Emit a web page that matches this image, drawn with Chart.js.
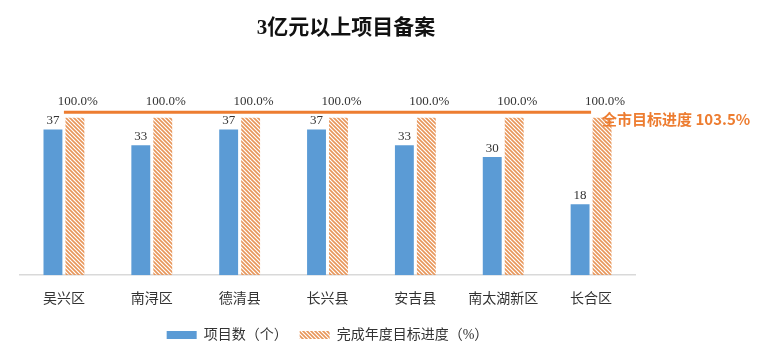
<!DOCTYPE html>
<html>
<head>
<meta charset="utf-8">
<script src="https://cdn.jsdelivr.net/npm/chart.js@4"></script>
<style>
  html, body { margin:0; padding:0; background:#fff; }
  #wrap { position:relative; width:768px; height:360px; }
  #title { position:absolute; left:0; top:10px; width:692px; text-align:center;
    font:bold 21px "Liberation Serif","Noto Sans CJK SC",serif; color:#111; }
</style>
</head>
<body>
<div id="wrap">
  <div id="title">3亿元以上项目备案</div>
  <canvas id="myChart" width="768" height="360"></canvas>
</div>
<script>
// 데이터
const categories = ['吴兴区', '南浔区', '德清县', '长兴县', '安吉县', '南太湖新区', '长合区'];
const projectCounts = [37, 33, 37, 37, 33, 30, 18];
const progressRates = [100, 100, 100, 100, 100, 100, 100];
const cityTarget = [103.5, 103.5, 103.5, 103.5, 103.5, 103.5, 103.5];
const cityTargetLabel = '全市目标进度 103.5%';

const serif = '"Liberation Serif", "Noto Sans CJK SC", serif';

/* 빗금 패턴 */
const pc = document.createElement('canvas');
pc.width = 4; pc.height = 4;
const pctx = pc.getContext('2d');
pctx.strokeStyle = '#E8965A';
pctx.lineWidth = 1.6;
pctx.beginPath();
pctx.moveTo(-1, -1); pctx.lineTo(5, 5);
pctx.moveTo(-1, 3); pctx.lineTo(1, 5);
pctx.moveTo(3, -1); pctx.lineTo(5, 1);
pctx.stroke();
const chartArea = document.getElementById('myChart').getContext('2d');
const hatch = chartArea.createPattern(pc, 'repeat');

// 값 라벨 + 목표선 텍스트
const labelPlugin = {
    id: 'labelPlugin',
    afterDatasetsDraw(chart) {
        const ctx = chart.ctx;
        ctx.save();
        ctx.font = '13px ' + serif;
        ctx.fillStyle = '#333';
        ctx.textAlign = 'center';
        ctx.textBaseline = 'bottom';
        chart.getDatasetMeta(0).data.forEach((bar, i) => {
            ctx.fillText(projectCounts[i], bar.x, bar.y - 2);
        });
        chart.getDatasetMeta(1).data.forEach((bar, i) => {
            ctx.fillText(progressRates[i].toFixed(1) + '%', bar.x + 3, bar.y - 10);
        });
        const x = chart.scales.x.getPixelForValue(categories.length - 1) + 11;
        const y = chart.scales.y1.getPixelForValue(cityTarget[0]) + 7;
        ctx.font = 'bold 15px "Noto Sans CJK SC", sans-serif';
        ctx.fillStyle = '#ED7D31';
        ctx.textAlign = 'left';
        ctx.textBaseline = 'middle';
        ctx.fillText(cityTargetLabel, x, y);
        ctx.restore();
    }
};

new Chart(chartArea, {
    data: {
        labels: categories,
        datasets: [{
            type: 'bar',
            label: '项目数（个）',
            data: projectCounts,
            backgroundColor: '#5B9BD5',
            yAxisID: 'y',
            categoryPercentage: 0.5,
            barPercentage: 0.86,
            order: 2
        }, {
            type: 'bar',
            label: '完成年度目标进度（%）',
            data: progressRates,
            backgroundColor: hatch,
            yAxisID: 'y1',
            categoryPercentage: 0.5,
            barPercentage: 0.86,
            order: 2
        }, {
            type: 'line',
            label: 'target',
            data: cityTarget,
            borderColor: '#ED7D31',
            borderWidth: 3,
            pointRadius: 0,
            yAxisID: 'y1',
            order: 1
        }]
    },
    options: {
        responsive: false,
        animation: false,
        layout: { padding: { left: 20, right: 133, top: 102, bottom: 8 } },
        plugins: {
            legend: {
                position: 'bottom',
                fullSize: false,
                labels: {
                    boxWidth: 30,
                    boxHeight: 8,
                    font: { size: 14, family: serif },
                    color: '#333',
                    padding: 12,
                    filter: (item) => item.text !== 'target'
                }
            },
            tooltip: { enabled: false }
        },
        scales: {
            x: {
                grid: { display: false },
                border: { color: '#D9D9D9', width: 1.5 },
                ticks: { font: { size: 14, family: serif }, color: '#333', padding: 8 }
            },
            y: { display: false, min: 0, max: 44 },
            y1: { display: false, min: 0, max: 110 }
        }
    },
    plugins: [labelPlugin]
});
</script>
</body>
</html>
